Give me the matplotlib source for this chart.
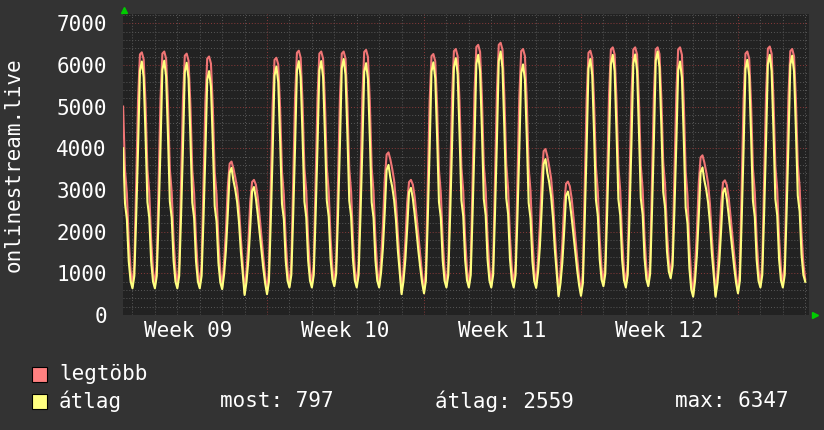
import matplotlib
matplotlib.use('Agg')
import matplotlib.pyplot as plt
import matplotlib.transforms as mtrans
from matplotlib.patches import Rectangle
from matplotlib.ticker import MultipleLocator, NullFormatter
import numpy as np

# 2-hour samples, one row per day (week 10 monday 00:00 = hour 0)
avg_w09 = [
    [4000, 2680, 2300, 1290, 810],  # monday, only the tail is on the graph
    [640, 940, 2380, 4010, 5860, 6080, 5700, 4290, 2710, 2330, 1290, 800],
    [640, 940, 2390, 4030, 5880, 6100, 5720, 4300, 2720, 2330, 1300, 800],
    [640, 940, 2370, 3990, 5830, 6050, 5670, 4270, 2700, 2320, 1290, 800],
    [640, 940, 2310, 3870, 5640, 5850, 5480, 4120, 2610, 2240, 1250, 780],
    [620, 970, 1550, 2420, 3410, 3530, 3230, 3010, 2710, 2220, 1520, 1000],
    [480, 790, 1310, 2090, 2970, 3070, 2810, 2430, 1990, 1530, 1120, 760],
]
max_w09 = [
    [5000, 3480, 2920, 1800, 1070],
    [680, 1220, 3210, 5180, 6250, 6300, 6130, 5060, 3490, 2930, 1800, 1070],
    [680, 1220, 3220, 5190, 6270, 6320, 6150, 5080, 3500, 2940, 1810, 1080],
    [680, 1220, 3200, 5150, 6220, 6270, 6100, 5040, 3480, 2920, 1800, 1070],
    [680, 1220, 3160, 5100, 6150, 6200, 6030, 4980, 3430, 2880, 1770, 1050],
    [660, 1260, 2020, 3080, 3630, 3680, 3520, 3300, 3050, 2570, 1850, 1220],
    [520, 1060, 1740, 2700, 3190, 3240, 3130, 2840, 2380, 1890, 1400, 950],
]
avg_w10 = [
    [500, 800, 2250, 3890, 5740, 5960, 5590, 4210, 2670, 2300, 1300, 820],
    [660, 960, 2400, 4030, 5870, 6090, 5710, 4300, 2720, 2340, 1310, 820],
    [660, 960, 2400, 4030, 5870, 6090, 5710, 4310, 2740, 2360, 1340, 850],
    [690, 990, 2430, 4070, 5920, 6140, 5760, 4330, 2740, 2360, 1320, 820],
    [660, 960, 2380, 4000, 5830, 6040, 5660, 4270, 2700, 2330, 1310, 820],
    [660, 1010, 1600, 2480, 3480, 3600, 3290, 3070, 2760, 2270, 1550, 1030],
    [500, 810, 1320, 2080, 2950, 3050, 2800, 2420, 1990, 1530, 1130, 770],
]
max_w10 = [
    [540, 1080, 3070, 5040, 6120, 6170, 6010, 4970, 3440, 2890, 1790, 1080],
    [700, 1240, 3240, 5210, 6290, 6340, 6170, 5100, 3520, 2960, 1830, 1100],
    [700, 1240, 3230, 5200, 6270, 6320, 6150, 5090, 3530, 2970, 1850, 1120],
    [730, 1270, 3250, 5200, 6270, 6320, 6150, 5080, 3510, 2950, 1820, 1090],
    [700, 1240, 3250, 5230, 6310, 6360, 6190, 5120, 3530, 2960, 1830, 1100],
    [700, 1340, 2140, 3260, 3850, 3900, 3730, 3500, 3230, 2720, 1950, 1280],
    [540, 1080, 1760, 2700, 3190, 3240, 3130, 2840, 2380, 1900, 1420, 960],
]
avg_w11 = [
    [520, 820, 2290, 3960, 5840, 6060, 5680, 4280, 2710, 2330, 1310, 820],
    [660, 960, 2420, 4070, 5940, 6160, 5780, 4350, 2750, 2370, 1320, 830],
    [660, 960, 2450, 4120, 6020, 6240, 5850, 4400, 2780, 2390, 1330, 830],
    [660, 960, 2470, 4170, 6090, 6320, 5920, 4450, 2810, 2420, 1340, 830],
    [660, 960, 2370, 3980, 5800, 6010, 5640, 4240, 2690, 2310, 1290, 810],
    [650, 1020, 1640, 2570, 3620, 3740, 3410, 3180, 2850, 2330, 1570, 1010],
    [450, 750, 1250, 2010, 2860, 2960, 2710, 2340, 1910, 1460, 1060, 710],
]
max_w11 = [
    [560, 1100, 3130, 5120, 6210, 6260, 6090, 5040, 3480, 2920, 1810, 1090],
    [700, 1240, 3260, 5240, 6330, 6380, 6210, 5130, 3540, 2970, 1840, 1100],
    [700, 1240, 3300, 5320, 6430, 6480, 6310, 5210, 3590, 3010, 1860, 1110],
    [700, 1240, 3320, 5360, 6480, 6530, 6360, 5250, 3620, 3030, 1870, 1110],
    [700, 1240, 3260, 5240, 6330, 6380, 6210, 5130, 3540, 2970, 1830, 1090],
    [690, 1350, 2170, 3320, 3930, 3980, 3810, 3560, 3280, 2760, 1960, 1260],
    [490, 1030, 1710, 2660, 3150, 3200, 3090, 2800, 2340, 1850, 1360, 910],
]
avg_w12 = [
    [460, 760, 2280, 3980, 5910, 6140, 5760, 4340, 2760, 2380, 1340, 850],
    [690, 990, 2470, 4130, 6020, 6240, 5850, 4400, 2780, 2390, 1330, 830],
    [660, 960, 2450, 4130, 6030, 6250, 5860, 4420, 2800, 2410, 1360, 860],
    [690, 990, 2490, 4180, 6100, 6320, 5940, 4530, 2950, 2570, 1530, 1040],
    [880, 1180, 2540, 4100, 5870, 6080, 5690, 4220, 2580, 2190, 1120, 610],
    [440, 810, 1430, 2360, 3420, 3540, 3230, 3010, 2700, 2210, 1490, 970],
    [440, 750, 1270, 2050, 2940, 3040, 2790, 2410, 1980, 1530, 1130, 770],
]
max_w12 = [
    [500, 1040, 3130, 5170, 6290, 6340, 6170, 5110, 3540, 2970, 1850, 1120],
    [730, 1270, 3290, 5280, 6370, 6420, 6250, 5160, 3560, 2990, 1840, 1100],
    [700, 1240, 3270, 5280, 6370, 6420, 6250, 5170, 3580, 3010, 1870, 1130],
    [730, 1270, 3290, 5280, 6370, 6420, 6260, 5210, 3670, 3120, 2020, 1310],
    [920, 1460, 3400, 5320, 6370, 6420, 6240, 5110, 3450, 2860, 1670, 900],
    [480, 1150, 1990, 3160, 3780, 3830, 3660, 3430, 3160, 2660, 1890, 1220],
    [480, 1030, 1720, 2680, 3180, 3230, 3120, 2830, 2380, 1900, 1410, 960],
]
avg_w13 = [
    [520, 820, 2310, 3990, 5900, 6120, 5740, 4320, 2740, 2350, 1320, 820],
    [660, 960, 2450, 4120, 6020, 6240, 5850, 4400, 2780, 2390, 1330, 830],
    [660, 960, 2440, 4110, 6000, 6220, 5840, 4430, 2860, 2480, 1450, 960],
    [797],
]
max_w13 = [
    [560, 1100, 3150, 5170, 6270, 6320, 6150, 5080, 3510, 2950, 1820, 1090],
    [700, 1240, 3280, 5290, 6390, 6440, 6270, 5180, 3570, 3000, 1850, 1100],
    [700, 1240, 3260, 5240, 6330, 6380, 6210, 5160, 3610, 3060, 1950, 1230],
    [850],
]

first_hour = -154       # first sample, hours from week 10 start
step_hours = 2
week_labels = ['Week 09', 'Week 10', 'Week 11', 'Week 12']
week_centers = [-84, 84, 252, 420]

ylabel = 'onlinestream.live'
legend_names = ['legtöbb', 'átlag']
stats = ['most: 797', 'átlag: 2559', 'max: 6347']

def flat(weeks):
    out = []
    for w in weeks:
        for day in w:
            out.extend(day)
    return np.array(out, dtype=float)

avg = flat([avg_w09, avg_w10, avg_w11, avg_w12, avg_w13])
mx = flat([max_w09, max_w10, max_w11, max_w12, max_w13])
hours = first_hour + step_hours * np.arange(len(avg))

bg = '#333333'
plot_bg = '#222222'
red = '#ff8080'
yellow = '#ffff80'
txt = '#ffffff'
font = 'DejaVu Sans Mono'

fig = plt.figure(figsize=(8.24, 4.30), dpi=100, facecolor=bg)
ax = fig.add_axes([123.5/824, 1-315/430, (809-123.5)/824, (315-14)/430])
ax.set_facecolor(plot_bg)

ax.plot(hours, mx, color='#f07575', lw=1.5, zorder=3)
ax.plot(hours, avg, color=yellow, lw=1.5, zorder=4)

ax.set_xlim(-153.6, 580)
ax.set_ylim(0, 7220)

ax.xaxis.set_major_locator(MultipleLocator(168))
ax.xaxis.set_minor_locator(MultipleLocator(24))
ax.yaxis.set_major_locator(MultipleLocator(1000))
ax.yaxis.set_minor_locator(MultipleLocator(200))
ax.xaxis.set_major_formatter(NullFormatter())
ax.grid(which='minor', color='#585858', lw=0.7, ls=(0, (1, 2)))
ax.grid(which='major', color='#8a3a3a', lw=0.7, ls=(0, (1, 2)))
ax.set_axisbelow(True)
ax.tick_params(which='both', length=0, pad=12, labelsize=15, labelcolor=txt)
for lab in ax.get_yticklabels():
    lab.set_fontfamily(font)
for s in ax.spines.values():
    s.set_visible(False)

# week labels centred in each week
tr = mtrans.blended_transform_factory(ax.transData, fig.transFigure)
for x, lab in zip(week_centers, week_labels):
    ax.text(x, 1-331/430, lab, transform=tr, ha='center', va='center',
            color=txt, fontsize=15, family=font)

fig.text(14/824, 1-165/430, ylabel, rotation=90, ha='center', va='center',
         color=txt, fontsize=15, family=font)

# little green arrows at the axis ends
fig.lines.append(plt.Line2D([124/824], [1-10/430], transform=fig.transFigure,
                            marker='^', color='#00cc00', ms=5, lw=0))
fig.lines.append(plt.Line2D([815/824], [1-315/430], transform=fig.transFigure,
                            marker='>', color='#00cc00', ms=5, lw=0))

# legend
rows = [1-374/430, 1-401/430]
for y, name, col in zip(rows, legend_names, [red, yellow]):
    fig.patches.append(Rectangle((32/824, y-7.5/430), 15/824, 15/430,
                                 transform=fig.transFigure, facecolor=col,
                                 edgecolor='black', lw=0.8))
    fig.text(59/824, y, name, ha='left', va='center', color=txt,
             fontsize=15, family=font)
for x, s in zip([220, 435, 675], stats):
    fig.text(x/824, rows[1], s, ha='left', va='center', color=txt,
             fontsize=15, family=font)

fig.savefig('out.png', dpi=100, facecolor=bg)
